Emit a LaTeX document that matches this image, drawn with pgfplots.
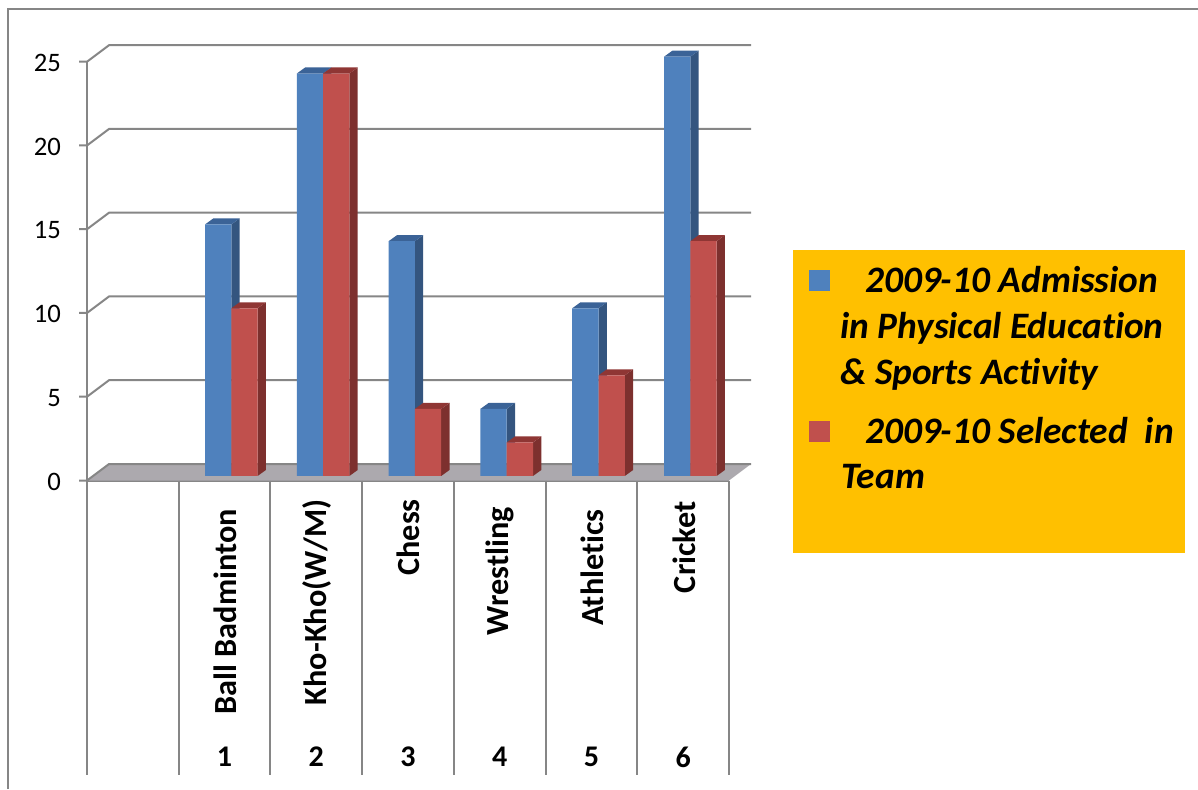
\documentclass[border=0pt]{standalone}
\usepackage{pgfplots}
\usepackage{pgfplotstable}
\usepackage{fontspec}
\setmainfont[Ligatures=NoCommon]{Carlito}
\pgfplotsset{compat=1.18}
\definecolor{gridc}{HTML}{868686}
\definecolor{floorc}{HTML}{ACA9AE}
\definecolor{bfront}{HTML}{4F81BD}
\definecolor{bside}{HTML}{34557F}
\definecolor{btop}{HTML}{3B6397}
\definecolor{rfront}{HTML}{C0504D}
\definecolor{rside}{HTML}{7D302E}
\definecolor{rtop}{HTML}{8F3634}
\definecolor{legbg}{HTML}{FFC000}
\pgfplotstableread{
xb xr blue red
218.15 244.45 15 10
309.95 336.25 24 24
401.75 428.05 14 4
493.55 519.85 4 2
585.35 611.65 10 6
677.15 703.45 25 14
}\datatable
\newcommand\gl[1]{\draw[gridc,line width=1.5pt] (axis cs:0,#1) ++(-6pt,0) -- ++(6pt,0) -- ++(16.5pt,12.375pt) -- ++(481.5pt,0pt);}
\newcommand\sep[1]{\draw[gridc,line width=1.5pt] (axis cs:#1,0) -- ++(0pt,-220.9pt);}
\newcommand\num[2]{\node[font=\fontsize{22.5pt}{22.5pt}\selectfont\bfseries,yshift=-207.4pt] at (axis cs:#1,0) {#2};}
% side and top faces of one bar: centre x, value, colours
\newcommand\faces[4]{%
  \pgfmathsetmacro\xa{#1-13.15}\pgfmathsetmacro\xb{#1+13.15}%
  \pgfmathsetmacro\xc{#1-13.15+8.3}\pgfmathsetmacro\xd{#1+13.15+8.3}%
  \pgfmathsetmacro\vt{#2+0.358}%
  \addplot[fill=#3,draw=none,forget plot] coordinates {(\xb,0)(\xd,0.358)(\xd,\vt)(\xb,#2)};
  \addplot[fill=#4,draw=none,forget plot] coordinates {(\xa,#2)(\xc,\vt)(\xd,\vt)(\xb,#2)};
}
\def\legsize{28pt}
\newcommand\lbl[3]{\node[anchor=base west,inner sep=0pt,font=\fontsize{\legsize}{\legsize}\selectfont\bfseries\itshape] at (#1,#2) {#3};}
\begin{document}
\begin{tikzpicture}[x=0.75pt,y=0.75pt]
\useasboundingbox (0,0) rectangle (1198,789);
\draw[gridc,line width=1.5pt] (8,0) -- (8,780) -- (1198,780);
% frame axis
\begin{axis}[
  at={(65.25pt,231.375pt)},anchor=south west,scale only axis,
  width=481.5pt,height=314.1pt,
  xmin=0,xmax=7,ymin=0,ymax=25,clip=false,
  axis x line=bottom,axis y line=left,
  axis line style={-,gridc,line width=1.5pt},
  ytick={0,5,...,25},
  y tick style={draw=none},
  major tick length=6pt,tick align=outside,
  /pgf/number format/assume math mode=true,
  yticklabel style={font=\fontsize{20pt}{20pt}\selectfont,xshift=-10pt,yshift=-0.75pt},
  xtick={1.5,2.5,3.5,4.5,5.5,6.5},
  x tick style={draw=none},
  xticklabels={{Ball Badminton\hspace*{7.5pt}},{Kho-Kho(W/M)},{Chess},{Wrestling\hspace*{6pt}},{Athletics\hspace*{7.5pt}},{Cricket\hspace*{1.5pt}}},
  xticklabel style={font=\fontsize{24.2pt}{24.2pt}\selectfont\bfseries,rotate=90,anchor=east,xshift=-4.5pt,yshift=-0.5pt},
]
\fill[floorc] (axis cs:0,0) -- ++(16.5pt,12.375pt) -- ++(481.5pt,0pt) -- ++(-16.5pt,-12.375pt) -- cycle;
\gl{0}\gl{5}\gl{10}\gl{15}\gl{20}\gl{25}
\sep{0}\sep{1}\sep{2}\sep{3}\sep{4}\sep{5}\sep{6}\sep{7}
\num{1.5}{1}\num{2.5}{2}\num{3.5}{3}\num{4.5}{4}\num{5.5}{5}\num{6.5}{6}
\end{axis}
% bars
\begin{axis}[
  at={(0pt,0pt)},anchor=south west,scale only axis,
  width=898.5pt,height=591.75pt,
  xmin=0,xmax=1198,ymin=-18.664,ymax=28.384,
  hide axis,clip=false,
]
\faces{218.15}{15}{bside}{btop}
\faces{309.95}{24}{bside}{btop}
\faces{401.75}{14}{bside}{btop}
\faces{493.55}{4}{bside}{btop}
\faces{585.35}{10}{bside}{btop}
\faces{677.15}{25}{bside}{btop}
\addplot[ybar,bar width=19.725pt,bar shift=0pt,fill=bfront,draw=none] table[x=xb,y=blue]{\datatable};
\faces{244.45}{10}{rside}{rtop}
\faces{336.25}{24}{rside}{rtop}
\faces{428.05}{4}{rside}{rtop}
\faces{519.85}{2}{rside}{rtop}
\faces{611.65}{6}{rside}{rtop}
\faces{703.45}{14}{rside}{rtop}
\addplot[ybar,bar width=19.725pt,bar shift=0pt,fill=rfront,draw=none] table[x=xr,y=red]{\datatable};
\end{axis}
% legend
\fill[legbg] (793,236) rectangle (1185,539);
\fill[bfront] (809,498) rectangle (830,519);
\fill[rfront] (809,347) rectangle (830,368);
\lbl{865}{496.5}{2009-10 Admission}
\lbl{840}{450.5}{in Physical Education}
\lbl{840}{404.5}{\& Sports Activity}
\lbl{865}{345.5}{2009-10 Selected\ \ in}
\lbl{841}{300.5}{Team}
\end{tikzpicture}
\end{document}
